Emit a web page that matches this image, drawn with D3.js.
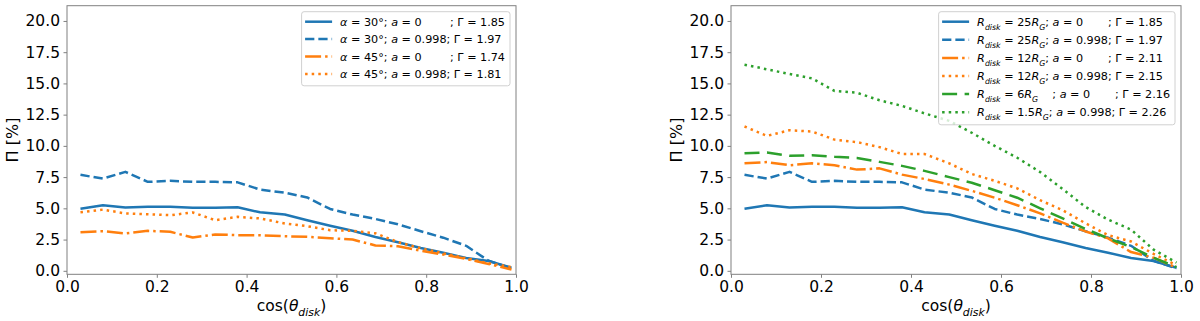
<!DOCTYPE html>
<html>
<head>
<meta charset="utf-8">
<script src="https://cdn.jsdelivr.net/npm/d3@7"></script>
<style>
  body { margin: 0; background: #fff; }
  svg { display: block; font-family: "DejaVu Sans", sans-serif; }
  text { white-space: pre; }
</style>
</head>
<body>
<svg id="chart" width="1200" height="321"></svg>
<script>
// cos(theta_disk) bin positions
const cosTheta = [0.03, 0.08, 0.13, 0.18, 0.23, 0.28, 0.33, 0.38, 0.43, 0.485,
                  0.535, 0.586, 0.636, 0.687, 0.737, 0.788, 0.838, 0.889, 0.939, 0.99];
const xTicks = [0, 0.2, 0.4, 0.6, 0.8, 1.0];
const yTicks = [0, 2.5, 5, 7.5, 10, 12.5, 15, 17.5, 20];

// polarisation degree (%) per curve
const blueA0     = [4.96, 5.25, 5.07, 5.12, 5.12, 5.04, 5.04, 5.08, 4.68, 4.5, 4.05, 3.6, 3.2, 2.7, 2.28, 1.82, 1.45, 1.02, 0.78, 0.24];
const blueA998   = [7.68, 7.38, 7.92, 7.12, 7.2, 7.12, 7.12, 7.08, 6.5, 6.25, 5.87, 4.95, 4.5, 4.15, 3.72, 3.17, 2.65, 2.0, 0.8, 0.2];
const alpha45A0  = [3.09, 3.17, 2.99, 3.2, 3.12, 2.67, 2.91, 2.85, 2.85, 2.77, 2.72, 2.61, 2.5, 2.03, 1.97, 1.6, 1.3, 0.95, 0.55, 0.1];
const alpha45A998 = [4.69, 4.9, 4.59, 4.53, 4.45, 4.67, 4.05, 4.32, 4.19, 3.79, 3.57, 3.25, 3.2, 3.0, 2.3, 1.8, 1.4, 1.0, 0.6, 0.3];
const r12A0      = [8.6, 8.7, 8.45, 8.6, 8.45, 8.1, 8.2, 7.7, 7.35, 6.9, 6.4, 5.85, 5.25, 4.6, 3.85, 3.15, 2.6, 1.5, 1.05, 0.25];
const r12A998    = [11.55, 10.8, 11.25, 11.15, 10.5, 10.3, 9.9, 9.35, 9.35, 8.6, 7.75, 7.2, 6.6, 5.65, 4.85, 3.8, 2.85, 2.35, 1.35, 0.45];
const r6A0       = [9.4, 9.47, 9.2, 9.25, 9.12, 9.03, 8.72, 8.4, 8.0, 7.5, 7.05, 6.45, 5.85, 5.0, 4.2, 3.35, 2.6, 1.9, 1.05, 0.3];
const r15A998    = [16.5, 16.13, 15.75, 15.4, 14.4, 14.25, 13.65, 13.2, 12.6, 12.0, 11.05, 10.0, 9.05, 7.9, 6.55, 5.1, 4.1, 3.3, 1.7, 0.65];

// legend labels: [text, style] with n = upright, i = italic, s = italic subscript
const leftLabels = [
  [["α","i"],[" = 30°; ","n"],["a","i"],[" = 0        ; Γ = 1.85","n"]],
  [["α","i"],[" = 30°; ","n"],["a","i"],[" = 0.998; Γ = 1.97","n"]],
  [["α","i"],[" = 45°; ","n"],["a","i"],[" = 0        ; Γ = 1.74","n"]],
  [["α","i"],[" = 45°; ","n"],["a","i"],[" = 0.998; Γ = 1.81","n"]]
];
const rightLabels = [
  [["R","i"],["disk","s"],[" = 25","n"],["R","i"],["G","s"],["; ","n"],["a","i"],[" = 0       ; Γ = 1.85","n"]],
  [["R","i"],["disk","s"],[" = 25","n"],["R","i"],["G","s"],["; ","n"],["a","i"],[" = 0.998; Γ = 1.97","n"]],
  [["R","i"],["disk","s"],[" = 12","n"],["R","i"],["G","s"],["; ","n"],["a","i"],[" = 0       ; Γ = 2.11","n"]],
  [["R","i"],["disk","s"],[" = 12","n"],["R","i"],["G","s"],["; ","n"],["a","i"],[" = 0.998; Γ = 2.15","n"]],
  [["R","i"],["disk","s"],[" = 6","n"],["R","i"],["G","s"],["    ; ","n"],["a","i"],[" = 0       ; Γ = 2.16","n"]],
  [["R","i"],["disk","s"],[" = 1.5","n"],["R","i"],["G","s"],["; ","n"],["a","i"],[" = 0.998; Γ = 2.26","n"]]
];
const xLabel = [["cos(","n"],["θ","i"],["disk","s"],[")","n"]];

const BLUE = "#1f77b4", ORANGE = "#ff7f0e", GREEN = "#2ca02c";
const LW = 2.5;
const SOLID = null, DASHED = [9.25, 4], DASHDOT = [16, 4, 2.5, 4], DOTTED = [2.5, 4.1], LONGDASH = [15, 7.5];

const panels = [
  {
    left: 67, right: 516,
    series: [
      {values: blueA0, color: BLUE, dash: SOLID},
      {values: blueA998, color: BLUE, dash: DASHED},
      {values: alpha45A0, color: ORANGE, dash: DASHDOT},
      {values: alpha45A998, color: ORANGE, dash: DOTTED}
    ],
    labels: leftLabels, rowGap: 17.4
  },
  {
    left: 731, right: 1181,
    series: [
      {values: blueA0, color: BLUE, dash: SOLID},
      {values: blueA998, color: BLUE, dash: DASHED},
      {values: r12A0, color: ORANGE, dash: DASHDOT},
      {values: r12A998, color: ORANGE, dash: DOTTED},
      {values: r6A0, color: GREEN, dash: LONGDASH},
      {values: r15A998, color: GREEN, dash: DOTTED}
    ],
    labels: rightLabels, rowGap: 18.1
  }
];

const plotTop = 5.7, plotBottom = 274.3;
const svg = d3.select("#chart");

function addRich(textSel, segs, size) {
  let shift = 0;
  segs.forEach(([t, st]) => {
    const ts = textSel.append("tspan").text(t);
    const target = st === "s" ? size * 0.34 : 0;
    if (target !== shift) { ts.attr("dy", target - shift); shift = target; }
    if (st !== "n") ts.attr("font-style", "italic");
    if (st === "s") ts.attr("font-size", size * 0.7);
  });
}

panels.forEach((p, pi) => {
  const x = d3.scaleLinear().domain([0, 1]).range([p.left, p.right]);
  const y = d3.scaleLinear().domain([-0.28, 21.22]).range([plotBottom, plotTop]);
  const g = svg.append("g");

  g.append("clipPath").attr("id", "clip" + pi)
    .append("rect").attr("x", p.left).attr("y", plotTop)
    .attr("width", p.right - p.left).attr("height", plotBottom - plotTop);

  // lines
  const line = d3.line().x((d, i) => x(cosTheta[i])).y(d => y(d));
  g.append("g").attr("clip-path", `url(#clip${pi})`)
    .selectAll("path")
    .data(p.series)
    .join("path")
      .attr("d", d => line(d.values))
      .attr("fill", "none")
      .attr("stroke", d => d.color)
      .attr("stroke-width", LW)
      .attr("stroke-linejoin", "round")
      .attr("stroke-dasharray", d => d.dash ? d.dash.join(",") : null);

  // axes
  const xAxis = d3.axisBottom(x).tickValues(xTicks).tickFormat(d3.format(".1f"))
    .tickSize(3.5).tickPadding(3.5).tickSizeOuter(0);
  const yAxis = d3.axisLeft(y).tickValues(yTicks).tickFormat(d3.format(".1f"))
    .tickSize(3.5).tickPadding(3.5).tickSizeOuter(0);

  g.append("g").attr("transform", `translate(0,${plotBottom})`).call(xAxis)
    .call(a => a.select(".domain").remove())
    .call(a => a.selectAll("line").attr("stroke", "#808080"))
    .call(a => a.selectAll("text").attr("font-size", 15.5).attr("fill", "#000")
      .attr("font-family", "DejaVu Sans").attr("dy", "0.71em"));
  g.append("g").attr("transform", `translate(${p.left},0)`).call(yAxis)
    .call(a => a.select(".domain").remove())
    .call(a => a.selectAll("line").attr("stroke", "#808080"))
    .call(a => a.selectAll("text").attr("font-size", 15.5).attr("fill", "#000")
      .attr("font-family", "DejaVu Sans"));

  // frame
  g.append("rect").attr("x", p.left).attr("y", plotTop)
    .attr("width", p.right - p.left).attr("height", plotBottom - plotTop)
    .attr("fill", "none").attr("stroke", "#808080").attr("stroke-width", 1);

  // axis labels
  const xl = g.append("text").attr("x", (p.left + p.right) / 2).attr("y", 311)
    .attr("text-anchor", "middle").attr("font-size", 15.5);
  addRich(xl, xLabel, 15.5);
  g.append("text").attr("transform", `translate(${p.left - 49},${(plotTop + plotBottom) / 2}) rotate(-90)`)
    .attr("text-anchor", "middle").attr("font-size", 16).text("Π [%]");

  // legend
  const fs = 11.2;
  const lg = g.append("g");
  const box = lg.append("rect").attr("fill", "#fff").attr("fill-opacity", 0.8)
    .attr("stroke", "#d0d0d0").attr("rx", 2.5);
  const rows = lg.selectAll("g.row").data(p.series).join("g").attr("class", "row");
  let maxW = 0;
  const texts = [];
  rows.each(function(s, i) {
    const r = d3.select(this);
    const cy = plotTop + 6 + 10 + i * p.rowGap;
    r.append("line").attr("y1", cy).attr("y2", cy)
      .attr("stroke", s.color).attr("stroke-width", LW)
      .attr("stroke-dasharray", s.dash ? s.dash.join(",") : null)
      .attr("class", "handle");
    const t = r.append("text").attr("y", cy + fs * 0.36).attr("font-size", fs);
    addRich(t, p.labels[i], fs);
    maxW = Math.max(maxW, t.node().getComputedTextLength());
    texts.push(t);
  });
  const boxRight = p.right - 6;
  const boxW = 3.5 + 27 + 8 + maxW + 5;
  const boxLeft = boxRight - boxW;
  box.attr("x", boxLeft).attr("y", plotTop + 6).attr("width", boxW)
    .attr("height", p.series.length * p.rowGap + 4.5);
  rows.selectAll("line.handle").attr("x1", boxLeft + 3.5).attr("x2", boxLeft + 30.5);
  texts.forEach(t => t.attr("x", boxLeft + 38.5));
});
</script>
</body>
</html>
